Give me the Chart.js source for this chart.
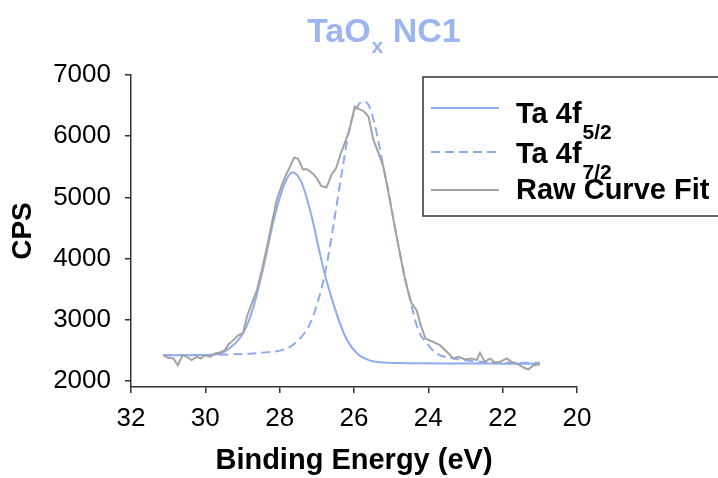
<!DOCTYPE html>
<html>
<head>
<meta charset="utf-8">
<script src="https://cdn.jsdelivr.net/npm/chart.js@4.4.0/dist/chart.umd.min.js"></script>
<style>
  html, body { margin: 0; padding: 0; background: #fff; }
  canvas { display: block; }
</style>
</head>
<body>
<canvas id="myChart" width="718" height="478"></canvas>
<script>
// series names (main part + subscript)
const seriesNames = ['Ta 4f', 'Ta 4f', 'Raw Curve Fit'];
const seriesSubs = ['5/2', '7/2', ''];

// Ta 4f5/2 fit
const energy52 = [31.13, 30.5, 30.0, 29.6, 29.34, 29.1, 28.9, 28.71, 28.44, 28.17, 27.9, 27.66, 27.41,
  27.14, 26.92, 26.74, 26.47, 26.2, 25.9, 25.6, 25.3, 24.6, 24.22, 23.0, 22.0, 21.0];
const cps52 = [2421, 2421, 2422, 2448, 2540, 2680, 2880, 3200, 3850, 4600, 5170, 5410, 5240,
  4690, 4090, 3640, 3100, 2680, 2440, 2340, 2305, 2290, 2287, 2285, 2282, 2280];

// Ta 4f7/2 fit
const energy72 = [31.13, 30.5, 30.0, 29.6, 29.0, 28.71, 28.3, 27.99, 27.72, 27.45, 27.18, 26.96, 26.78,
  26.56, 26.33, 26.11, 25.88, 25.73, 25.57, 25.39, 25.21, 25.03, 24.85, 24.67, 24.49, 24.27, 24.04,
  23.78, 23.33, 22.61, 22.0, 21.0];
const cps72 = [2421, 2422, 2425, 2428, 2440, 2449, 2470, 2495, 2557, 2694, 2940, 3321, 3758,
  4521, 5395, 6158, 6513, 6570, 6459, 6050, 5503, 4958, 4357, 3812, 3321, 2830, 2612,
  2449, 2367, 2311, 2300, 2295];

// raw data
const rawEnergy = [31.13, 31.0, 30.86, 30.74, 30.61, 30.5, 30.37, 30.23, 30.12, 30.01, 29.87, 29.74,
  29.6, 29.47, 29.38, 29.25, 29.11, 28.99, 28.88, 28.75, 28.61, 28.48, 28.34, 28.21, 28.08, 27.94,
  27.81, 27.72, 27.61, 27.5, 27.38, 27.26, 27.12, 26.99, 26.88, 26.74, 26.61, 26.48, 26.37, 26.25,
  26.12, 25.98, 25.87, 25.73, 25.61, 25.48, 25.34, 25.21, 25.07, 24.94, 24.8, 24.68, 24.58, 24.45,
  24.31, 24.22, 24.08, 23.87, 23.69, 23.5, 23.33, 23.19, 23.01, 22.83, 22.7, 22.61, 22.48, 22.34,
  22.21, 22.07, 21.89, 21.76, 21.62, 21.44, 21.31, 21.17, 21.0];
const rawCps = [2421, 2377, 2366, 2257, 2421, 2394, 2339, 2394, 2366, 2421, 2394, 2448,
  2465, 2503, 2596, 2666, 2748, 2776, 3048, 3267, 3485, 3812, 4193, 4577, 4958, 5204,
  5395, 5503, 5650, 5629, 5461, 5461, 5395, 5302, 5187, 5160, 5367, 5477, 5695, 5886,
  6104, 6485, 6448, 6404, 6322, 5940, 5722, 5503, 5068, 4631, 4193, 3812, 3539, 3267,
  3150, 2940, 2694, 2639, 2584, 2475, 2367, 2393, 2350, 2367, 2339, 2459, 2311, 2367,
  2295, 2311, 2367, 2311, 2285, 2219, 2186, 2257, 2273];

const xTicks = [32, 30, 28, 26, 24, 22, 20];
const yTicks = [2000, 3000, 4000, 5000, 6000, 7000];

const blue = '#8eaaf0';
const grey = '#a3a3a3';
const fontFam = "'Liberation Sans', Arial, sans-serif";

Chart.defaults.font.family = fontFam;
Chart.defaults.color = '#000';

function pts(xs, ys) {
  return xs.map((x, i) => ({ x: x, y: ys[i] }));
}

// title with subscript + legend box drawn on the canvas
const titleAndLegend = {
  id: 'titleAndLegend',
  afterDraw(chart) {
    const c = chart.ctx;
    c.save();
    c.textAlign = 'left';
    c.textBaseline = 'alphabetic';

    c.fillStyle = '#9db4f2';
    let x = 307;
    c.font = 'bold 34px ' + fontFam;
    c.fillText('TaO', x, 42);
    x += c.measureText('TaO').width + 1;
    c.font = 'bold 21px ' + fontFam;
    c.fillText('x', x, 53);
    x += c.measureText('x').width;
    c.font = 'bold 34px ' + fontFam;
    c.fillText(' NC1', x, 42);

    c.fillStyle = '#fff';
    c.fillRect(423, 77, 300, 139);
    c.strokeStyle = '#333';
    c.lineWidth = 1.5;
    c.strokeRect(423, 77, 300, 139);

    const lineY = [108, 152, 190];
    const textY = [123, 163, 199];
    chart.data.datasets.forEach((ds, i) => {
      c.strokeStyle = ds.borderColor;
      c.lineWidth = 2;
      c.setLineDash(ds.borderDash || []);
      c.beginPath();
      c.moveTo(431, lineY[i]);
      c.lineTo(499, lineY[i]);
      c.stroke();
      c.setLineDash([]);
      c.fillStyle = '#000';
      c.font = 'bold 29px ' + fontFam;
      c.fillText(seriesNames[i], 516, textY[i]);
      if (seriesSubs[i]) {
        const w = c.measureText(seriesNames[i]).width;
        c.font = 'bold 21px ' + fontFam;
        c.fillText(seriesSubs[i], 516 + w + 1, textY[i] + 16);
      }
    });
    c.restore();
  }
};

const ctx = document.getElementById('myChart');
const myChart = new Chart(ctx, {
  type: 'line',
  data: {
    datasets: [
      {
        label: 'Ta 4f5/2',
        data: pts(energy52, cps52),
        borderColor: blue,
        borderWidth: 2,
        pointRadius: 0,
        cubicInterpolationMode: 'monotone',
        order: 2
      },
      {
        label: 'Ta 4f7/2',
        data: pts(energy72, cps72),
        borderColor: blue,
        borderWidth: 2,
        borderDash: [9, 5],
        pointRadius: 0,
        cubicInterpolationMode: 'monotone',
        order: 1
      },
      {
        label: 'Raw Curve Fit',
        data: pts(rawEnergy, rawCps),
        borderColor: grey,
        borderWidth: 2,
        pointRadius: 0,
        tension: 0,
        order: 0
      }
    ]
  },
  options: {
    responsive: false,
    animation: false,
    layout: { padding: { top: 75, left: 0, right: 141, bottom: 0 } },
    plugins: {
      legend: { display: false },
      title: { display: false },
      tooltip: { enabled: false }
    },
    scales: {
      x: {
        type: 'linear',
        reverse: true,
        min: 20,
        max: 32,
        afterBuildTicks: s => { s.ticks = xTicks.map(v => ({ value: v })); },
        afterFit: s => { s.height = 91; },
        ticks: { color: '#000', font: { size: 26 }, padding: 10, maxRotation: 0, autoSkip: false,
          callback: v => String(v) },
        grid: { drawOnChartArea: false, drawTicks: true, tickLength: 6, color: '#333', lineWidth: 1.5 },
        border: { color: '#333', width: 1.5 },
        title: {
          display: true,
          text: 'Binding Energy (eV)',
          color: '#000',
          font: { size: 29, weight: 'bold' },
          padding: { top: 0, bottom: 0 }
        }
      },
      y: {
        type: 'linear',
        min: 1900,
        max: 7000,
        afterBuildTicks: s => { s.ticks = yTicks.map(v => ({ value: v })); },
        afterFit: s => { s.width = 131; },
        ticks: { color: '#000', font: { size: 26 }, padding: 14, callback: v => String(v) },
        grid: { drawOnChartArea: false, drawTicks: true, tickLength: 6, color: '#333', lineWidth: 1.5 },
        border: { color: '#333', width: 1.5 },
        title: {
          display: true,
          text: 'CPS',
          color: '#000',
          font: { size: 28, weight: 'bold' },
          padding: { top: 6, bottom: 0 }
        }
      }
    }
  },
  plugins: [titleAndLegend]
});
</script>
</body>
</html>
